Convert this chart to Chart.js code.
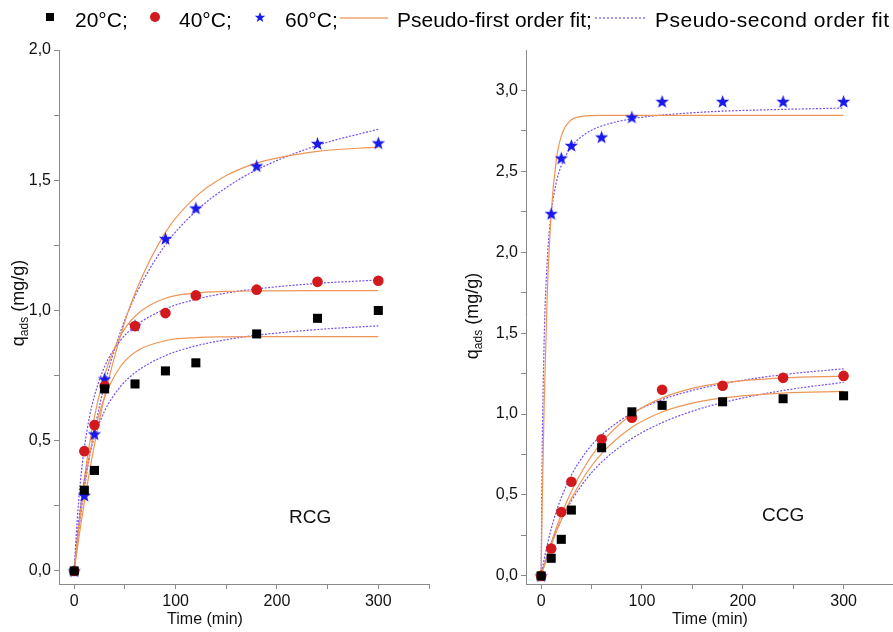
<!DOCTYPE html>
<html>
<head>
<meta charset="utf-8">
<script src="https://cdn.jsdelivr.net/npm/chart.js@4.4.1/dist/chart.umd.min.js"></script>
<style>
  html, body { margin: 0; padding: 0; background: #fff; }
  #wrap { position: relative; width: 893px; height: 632px; overflow: hidden; font-family: "Liberation Sans", Arial, sans-serif; }
  #wrap canvas.panel { position: absolute; top: 0; }
  .lg { position: absolute; font-size: 21px; line-height: 21px; top: 9px; color: #000; white-space: nowrap; }
  .mk { position: absolute; }
</style>
</head>
<body>
<div id="wrap">
  <canvas id="rcg" class="panel" width="446" height="632" style="left:0"></canvas>
  <canvas id="ccg" class="panel" width="455" height="632" style="left:446px"></canvas>

  <div class="mk" style="left:46px;top:13px;width:8px;height:8px;background:#000"></div>
  <span class="lg" style="left:75px">20°C;</span>
  <div class="mk" style="left:150px;top:12px;width:10px;height:10px;border-radius:50%;background:rgb(210,25,30)"></div>
  <span class="lg" style="left:179px">40°C;</span>
  <canvas id="lgStar" class="mk" width="12" height="12" style="left:254px;top:11px"></canvas>
  <span class="lg" style="left:285px">60°C;</span>
  <div class="mk" style="left:340px;top:17px;width:48px;height:2px;background:rgb(242,188,152)"></div>
  <span class="lg" style="left:397px">Pseudo-first order fit;</span>
  <div class="mk" style="left:595px;top:17px;width:50px;height:0;border-top:2px dotted rgb(170,150,240)"></div>
  <span class="lg" style="left:655px;letter-spacing:0.5px">Pseudo-second order fit</span>
</div>

<script>
const FONT = '"Liberation Sans", Arial, sans-serif';

// measured times (min)
const tMeas = [0, 10, 20, 30, 60, 90, 120, 180, 240, 300];
const tFit = [0, 1, 3, 6, 10, 15, 20, 30, 45, 60, 90, 120, 150, 180, 240, 300];

// RCG, q_ads (mg/g)
const rcg20 = [0, 0.31, 0.386, 0.699, 0.718, 0.768, 0.799, 0.91, 0.97, 1.0];
const rcg40 = [0, 0.46, 0.56, 0.71, 0.94, 0.99, 1.058, 1.08, 1.11, 1.114];
const rcg60 = [0, 0.29, 0.526, 0.737, 0.942, 1.276, 1.393, 1.555, 1.641, 1.643];
const rcgPfo20 = [0, 0.040, 0.114, 0.213, 0.326, 0.442, 0.534, 0.667, 0.781, 0.840, 0.884, 0.896, 0.899, 0.900, 0.900, 0.900];
const rcgPso20 = [0, 0.050, 0.137, 0.241, 0.346, 0.443, 0.515, 0.614, 0.705, 0.761, 0.827, 0.864, 0.888, 0.905, 0.927, 0.941];
const rcgPfo40 = [0, 0.042, 0.122, 0.230, 0.355, 0.485, 0.593, 0.752, 0.898, 0.978, 1.047, 1.067, 1.073, 1.075, 1.076, 1.076];
const rcgPso40 = [0, 0.074, 0.197, 0.338, 0.472, 0.590, 0.673, 0.785, 0.882, 0.940, 1.006, 1.043, 1.067, 1.083, 1.104, 1.117];
const rcgPfo60 = [0, 0.029, 0.084, 0.164, 0.264, 0.379, 0.485, 0.671, 0.894, 1.066, 1.300, 1.437, 1.518, 1.566, 1.611, 1.627];
const rcgPso60 = [0, 0.037, 0.106, 0.201, 0.314, 0.436, 0.542, 0.716, 0.911, 1.055, 1.252, 1.381, 1.472, 1.540, 1.634, 1.696];

// CCG, q_ads (mg/g)
const ccg20 = [0, 0.109, 0.226, 0.407, 0.792, 1.014, 1.054, 1.076, 1.095, 1.113];
const ccg40 = [0, 0.169, 0.395, 0.582, 0.844, 0.977, 1.15, 1.175, 1.224, 1.236];
const ccg60 = [0, 2.239, 2.582, 2.66, 2.712, 2.835, 2.932, 2.932, 2.932, 2.932];
const ccgPfo20 = [0, 0.020, 0.060, 0.117, 0.189, 0.271, 0.346, 0.478, 0.636, 0.756, 0.918, 1.013, 1.068, 1.100, 1.130, 1.140];
const ccgPso20 = [0, 0.022, 0.065, 0.125, 0.197, 0.276, 0.347, 0.464, 0.600, 0.703, 0.849, 0.947, 1.018, 1.071, 1.146, 1.196];
const ccgPfo40 = [0, 0.022, 0.066, 0.128, 0.206, 0.296, 0.378, 0.522, 0.693, 0.824, 0.999, 1.100, 1.159, 1.193, 1.224, 1.235];
const ccgPso40 = [0, 0.035, 0.102, 0.190, 0.291, 0.397, 0.484, 0.623, 0.769, 0.871, 1.005, 1.089, 1.146, 1.187, 1.244, 1.280];
const ccgPfo60 = [0, 0.409, 1.059, 1.723, 2.242, 2.568, 2.718, 2.819, 2.843, 2.846, 2.846, 2.846, 2.846, 2.846, 2.846, 2.846];
const ccgPso60 = [0, 0.725, 1.453, 1.940, 2.241, 2.429, 2.536, 2.652, 2.736, 2.780, 2.825, 2.848, 2.862, 2.872, 2.883, 2.891];

// axis ticks
const xTicks = [0, 50, 100, 150, 200, 250, 300, 350];
const xLabels = [0, 100, 200, 300];
const rcgYTicks = [0, 0.25, 0.5, 0.75, 1, 1.25, 1.5, 1.75, 2];
const ccgYTicks = [0, 0.25, 0.5, 0.75, 1, 1.25, 1.5, 1.75, 2, 2.25, 2.5, 2.75, 3];

const RED = 'rgb(210,25,30)';
const BLUE = 'rgb(25,25,235)';
const ORANGE = 'rgb(238,150,86)';
const PURPLE = 'rgb(120,80,235)';

function drawStar(ctx, cx, cy, R, r) {
  ctx.beginPath();
  for (let i = 0; i < 10; i++) {
    const rad = i % 2 ? r : R;
    const a = -Math.PI / 2 + i * Math.PI / 5;
    ctx.lineTo(cx + rad * Math.cos(a), cy + rad * Math.sin(a));
  }
  ctx.closePath();
  ctx.fillStyle = BLUE;
  ctx.fill();
}

const starImg = document.createElement('canvas');
starImg.width = 15; starImg.height = 15;
drawStar(starImg.getContext('2d'), 7.5, 8, 7, 2.9);
drawStar(document.getElementById('lgStar').getContext('2d'), 6, 6.5, 5.5, 2.3);

const pts = (xs, ys) => xs.map((x, i) => ({ x, y: ys[i] }));

function markers(ys, style, color, radius) {
  return { data: pts(tMeas, ys), pointStyle: style, pointRadius: radius, pointBackgroundColor: color,
           pointBorderWidth: 0, showLine: false, order: 0 };
}
function fit(ys, color, dash) {
  return { data: pts(tFit, ys), showLine: true, borderColor: color, borderWidth: 1.2, borderDash: dash,
           pointRadius: 0, cubicInterpolationMode: 'monotone', fill: false, order: 1 };
}

const comma = v => v.toFixed(1).replace('.', ',');

const panelText = {
  id: 'panelText',
  afterDraw(chart, args, o) {
    const ctx = chart.ctx;
    ctx.save();
    ctx.fillStyle = '#111';
    ctx.textBaseline = 'alphabetic';
    ctx.font = '16px ' + FONT;
    ctx.textAlign = 'center';
    ctx.fillText('Time (min)', o.timeX, 624);
    ctx.font = '19px ' + FONT;
    ctx.textAlign = 'left';
    ctx.fillText(o.label, o.labelX, o.labelY);
    ctx.translate(o.yTitleX, o.yTitleY);
    ctx.rotate(-Math.PI / 2);
    ctx.font = '18px ' + FONT;
    const wq = ctx.measureText('q').width;
    const wr = ctx.measureText(' (mg/g)').width;
    ctx.font = '12px ' + FONT;
    const wa = ctx.measureText('ads').width;
    let x = -(wq + wa + wr) / 2;
    ctx.font = '18px ' + FONT;
    ctx.fillText('q', x, 0);
    ctx.font = '12px ' + FONT;
    ctx.fillText('ads', x + wq, 4);
    ctx.font = '18px ' + FONT;
    ctx.fillText(' (mg/g)', x + wq + wa, 0);
    ctx.restore();
  }
};

function makePanel(id, sets, yTicks, yMax, yWidth, padRight, text) {
  const axisCommon = {
    type: 'linear',
    grid: { drawOnChartArea: false, drawTicks: true, tickLength: 5, color: '#8a8a8a', lineWidth: 1 },
    border: { display: true, color: '#8a8a8a', width: 1 }
  };
  return new Chart(document.getElementById(id), {
    type: 'scatter',
    data: { datasets: sets },
    options: {
      responsive: false,
      animation: false,
      layout: { padding: { top: 50, left: 0, right: padRight, bottom: 0 } },
      plugins: { legend: { display: false }, tooltip: { enabled: false }, panelText: text },
      scales: {
        x: Object.assign({}, axisCommon, {
          min: -15, max: 350,
          afterBuildTicks: s => { s.ticks = xTicks.map(v => ({ value: v })); },
          afterFit: s => { s.height = 48; },
          ticks: { autoSkip: false, maxRotation: 0, padding: 3, color: '#111',
                   font: { size: 16, family: FONT },
                   callback: v => xLabels.includes(v) ? String(v) : '' }
        }),
        y: Object.assign({}, axisCommon, {
          min: -0.05, max: yMax,
          afterBuildTicks: s => { s.ticks = yTicks.map(v => ({ value: v })); },
          afterFit: s => { s.width = yWidth; },
          ticks: { autoSkip: false, padding: 3, color: '#111',
                   font: { size: 16, family: FONT },
                   callback: v => Math.abs(v * 2 - Math.round(v * 2)) < 1e-6 ? comma(v) : '' }
        })
      }
    },
    plugins: [panelText]
  });
}

makePanel('rcg', [
  markers(rcg20, 'rect', '#000', 6.4),
  markers(rcg40, 'circle', RED, 5.3),
  markers(rcg60, starImg, BLUE, 7),
  fit(rcgPfo20, ORANGE, []),
  fit(rcgPso20, PURPLE, [2, 1.5]),
  fit(rcgPfo40, ORANGE, []),
  fit(rcgPso40, PURPLE, [2, 1.5]),
  fit(rcgPfo60, ORANGE, []),
  fit(rcgPso60, PURPLE, [2, 1.5])
], rcgYTicks, 2.0, 59, 17, { timeX: 205, label: 'RCG', labelX: 289, labelY: 523, yTitleX: 24, yTitleY: 303 });

makePanel('ccg', [
  markers(ccg20, 'rect', '#000', 6.4),
  markers(ccg40, 'circle', RED, 5.3),
  markers(ccg60, starImg, BLUE, 7),
  fit(ccgPfo20, ORANGE, []),
  fit(ccgPso20, PURPLE, [2, 1.5]),
  fit(ccgPfo40, ORANGE, []),
  fit(ccgPso40, PURPLE, [2, 1.5]),
  fit(ccgPfo60, ORANGE, []),
  fit(ccgPso60, PURPLE, [2, 1.5])
], ccgYTicks, 3.25, 80, 1, { timeX: 264, label: 'CCG', labelX: 316, labelY: 521, yTitleX: 32, yTitleY: 316 });
</script>
</body>
</html>
